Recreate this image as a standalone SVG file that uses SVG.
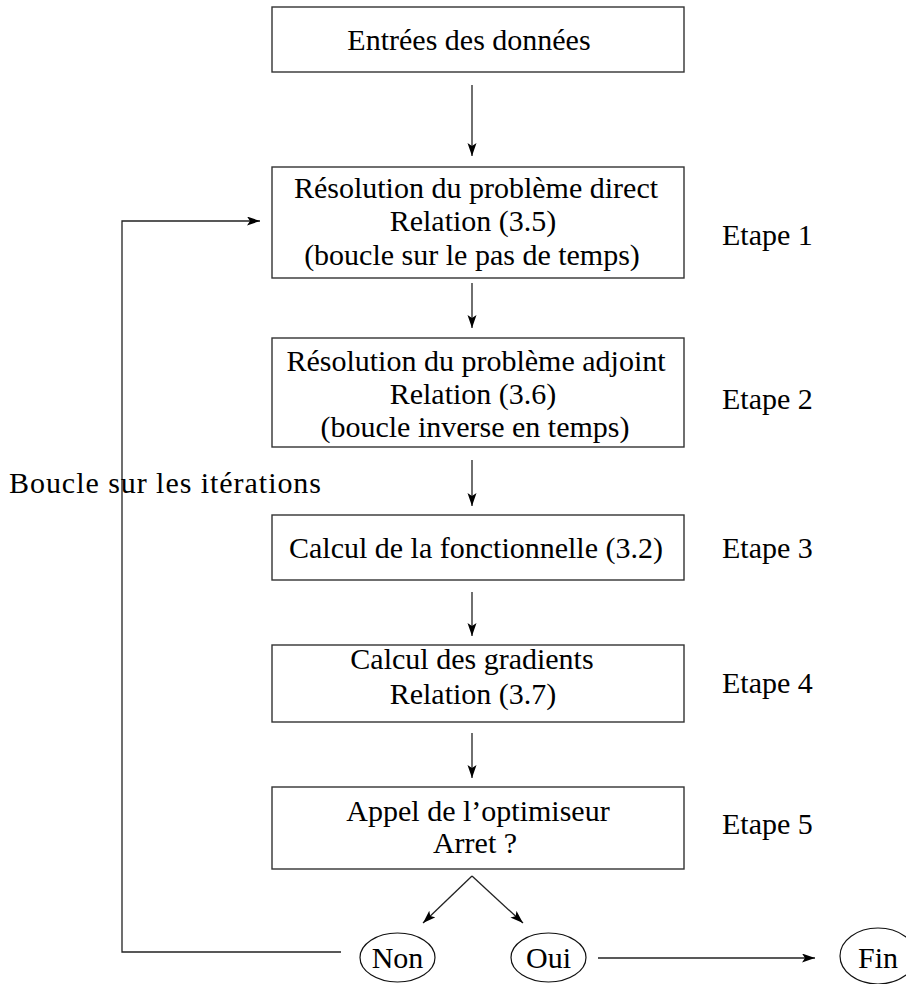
<svg xmlns="http://www.w3.org/2000/svg" width="906" height="984" viewBox="0 0 906 984">
<style>
.box{fill:#fff;stroke:#333;stroke-width:1.4}
.ell{fill:#fff;stroke:#111;stroke-width:1.2}
.t{font-family:"Liberation Serif","Times New Roman",serif;font-size:30px;fill:#000}
.m{text-anchor:middle}
.c{fill:none;stroke:#222;stroke-width:1.3}
</style>
<defs>
<marker id="ah" markerUnits="userSpaceOnUse" markerWidth="14" markerHeight="10" refX="13" refY="4.5" orient="auto">
<path d="M0,0 L13,4.5 L0,9 L3,4.5 z" fill="#000"/>
</marker>
</defs>
<g id="connectors">
<line class="c" x1="472" y1="85" x2="472" y2="156" marker-end="url(#ah)"/>
<line class="c" x1="472" y1="283" x2="472" y2="328" marker-end="url(#ah)"/>
<line class="c" x1="472" y1="460" x2="472" y2="506" marker-end="url(#ah)"/>
<line class="c" x1="472" y1="592" x2="472" y2="636" marker-end="url(#ah)"/>
<line class="c" x1="472" y1="733" x2="472" y2="778" marker-end="url(#ah)"/>
<line class="c" x1="472" y1="876" x2="423" y2="923" marker-end="url(#ah)"/>
<line class="c" x1="472" y1="876" x2="523" y2="923" marker-end="url(#ah)"/>
<polyline class="c" points="341,952 122,952 122,221 260,221" marker-end="url(#ah)"/>
<line class="c" x1="598" y1="958" x2="815" y2="958" marker-end="url(#ah)"/>
</g>
<g id="entrees">
<rect class="box" x="272" y="7" width="412" height="65"/>
<text class="t m" x="469" y="50">Entrées des données</text>
</g>
<g id="etape1">
<rect class="box" x="272" y="167" width="412" height="111"/>
<text class="t m" x="476" y="198">Résolution du problème direct</text>
<text class="t m" x="473" y="231">Relation (3.5)</text>
<text class="t m" x="472" y="265">(boucle sur le pas de temps)</text>
<text class="t" x="722" y="245">Etape 1</text>
</g>
<g id="etape2">
<rect class="box" x="272" y="338" width="412" height="109"/>
<text class="t m" x="476" y="371">Résolution du problème adjoint</text>
<text class="t m" x="473" y="404">Relation (3.6)</text>
<text class="t m" x="475" y="437">(boucle inverse en temps)</text>
<text class="t" x="722" y="409">Etape 2</text>
</g>
<g id="etape3">
<rect class="box" x="272" y="515" width="412" height="65"/>
<text class="t m" x="476" y="558">Calcul de la fonctionnelle (3.2)</text>
<text class="t" x="722" y="558">Etape 3</text>
</g>
<g id="etape4">
<rect class="box" x="272" y="645" width="412" height="77"/>
<text class="t m" x="472" y="669">Calcul des gradients</text>
<text class="t m" x="473" y="704">Relation (3.7)</text>
<text class="t" x="722" y="693">Etape 4</text>
</g>
<g id="etape5">
<rect class="box" x="272" y="787" width="412" height="82"/>
<text class="t m" x="478" y="821">Appel de l’optimiseur</text>
<text class="t m" x="475" y="853">Arret ?</text>
<text class="t" x="722" y="834">Etape 5</text>
</g>
<g id="non">
<ellipse class="ell" cx="397.5" cy="957.5" rx="37.5" ry="24.5"/>
<text class="t m" x="397.5" y="968">Non</text>
</g>
<g id="oui">
<ellipse class="ell" cx="548.5" cy="957.5" rx="37.5" ry="24.5"/>
<text class="t m" x="548.5" y="968">Oui</text>
</g>
<g id="fin">
<ellipse class="ell" cx="878" cy="956" rx="38" ry="28"/>
<text class="t m" x="878" y="968">Fin</text>
</g>
<g id="boucle">
<text class="t" x="9" y="493" textLength="312" lengthAdjust="spacing">Boucle sur les itérations</text>
</g>
</svg>
